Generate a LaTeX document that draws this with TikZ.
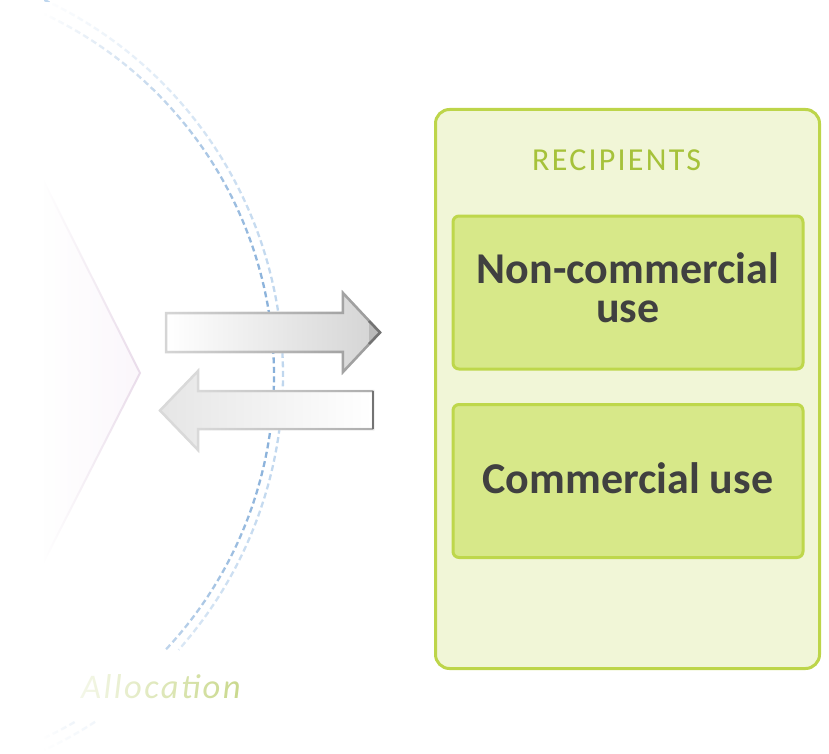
\documentclass[tikz,border=0pt]{standalone}
\usepackage{fontspec}
\setmainfont{Carlito}
\newfontfamily\spacedfont[LetterSpace=7]{Carlito}
\usetikzlibrary{fadings,shadings}
\tikzfading[name=fadeR, left color=transparent!0, right color=transparent!100]
\tikzfading[name=fadeL, left color=transparent!100, right color=transparent!0]
\definecolor{boxline}{HTML}{BDD54A}
\definecolor{boxfill}{HTML}{F1F6D7}
\definecolor{innerline}{HTML}{BED74B}
\definecolor{innerfill}{HTML}{D7E889}
\definecolor{txt}{HTML}{404040}
\definecolor{recipgreen}{HTML}{A6C23A}
\definecolor{allocgreen}{HTML}{BCCF70}
\definecolor{arcdark}{HTML}{80ABD8}
\definecolor{arclight}{HTML}{BED6EE}
\definecolor{chevline}{HTML}{C8A6CA}
\definecolor{chevfill}{HTML}{F5EAF6}
\begin{document}
\begin{tikzpicture}[x=1pt,y=-1pt,
  outerbox/.style={draw=boxline, fill=boxfill, line width=3pt, rounded corners=14pt, minimum width=384pt, minimum height=559pt, inner sep=0pt},
  usebox/.style={draw=innerline, fill=innerfill, line width=3pt, rounded corners=6pt, minimum width=350pt, minimum height=153pt, inner sep=0pt},
  usetext/.style={font=\fontsize{44}{39}\selectfont\bfseries, text=txt, inner sep=0pt, anchor=base},
  spacedtext/.style={inner sep=0pt, anchor=base west},
  arcline/.style={line width=2.3pt, dash pattern=on 6pt off 3.5pt},
  arrowline/.style={line width=2.5pt, line join=miter},
]
\useasboundingbox (0,0) rectangle (829,754);

% faint chevron
\coordinate (chA) at (43,180);
\coordinate (chB) at (140,373);
\coordinate (chC) at (43,563);
\fill[chevfill] (chA) -- (chB) -- (chC) -- cycle;
\draw[chevline, line width=2pt] (chA) -- (chB) -- (chC);

% dashed arcs
\coordinate (ci) at (-126,376);
\coordinate (co) at (-131,375);
\draw[arcline, arcdark] (ci) ++(-68:400) arc[start angle=-68, end angle=43.2, radius=400];
\draw[arcline, arcdark] (ci) ++(59.9:400) arc[start angle=59.9, end angle=74, radius=400];
\draw[arcline, arclight] (co) ++(-65:414) arc[start angle=-65, end angle=41.6, radius=414];
\draw[arcline, arclight] (co) ++(56.9:414) arc[start angle=56.9, end angle=69, radius=414];

% faint label
\node[spacedtext, text=allocgreen, font=\fontsize{34.5}{34.5}\selectfont\spacedfont\itshape] (alloc) at (81,698) {Allocation};

% left fade
\fill[white] (0,0) rectangle (44,754);
\fill[white, path fading=fadeR] (43,0) rectangle (290,754);

% right arrow
\shade[left color=white, right color=black!17] (166,313) -- (343,313) -- (343,293) -- (380,332.5) -- (343,372) -- (343,352) -- (166,352) -- cycle;
\draw[arrowline, black!16] (166,313) -- (343,313) -- (343,293) -- (380,332.5) -- (343,372) -- (343,352) -- (166,352) -- cycle;
\draw[arrowline, black!40, path fading=fadeL] (166,313) -- (343,313) -- (343,293) -- (380,332.5) -- (343,372) -- (343,352) -- (166,352) -- cycle;
\fill[black!27] (369,321) -- (380,332.5) -- (369,344) -- cycle;
\draw[arrowline, black!55] (369,321) -- (380,332.5) -- (369,344);

% left arrow
\shade[left color=black!10, right color=white] (373,391) -- (198,391) -- (198,371) -- (160,410.5) -- (198,450) -- (198,429) -- (373,429) -- cycle;
\draw[arrowline, black!15] (373,391) -- (198,391) -- (198,371) -- (160,410.5) -- (198,450) -- (198,429) -- (373,429) -- cycle;
\draw[arrowline, black!32, path fading=fadeL] (198,391) -- (373,391) (198,429) -- (373,429);
\draw[arrowline, black!55] (373,391) -- (373,429);

% recipients box
\node[outerbox] (recip) at (627.5,389) {};
\node[spacedtext, text=recipgreen, font=\fontsize{32}{32}\selectfont\spacedfont] (rtitle) at (532,170.5) {RECIPIENTS};
\node[usebox] (ncbox) at (628,292.5) {};
\node[usetext] (nctextA) at (628,283.5) {Non-commercial};
\node[usetext] (nctextB) at (628,322.5) {use};
\node[usebox] (cbox) at (628,481) {};
\node[usetext] (ctext) at (628,493.5) {Commercial use};
\end{tikzpicture}
\end{document}
